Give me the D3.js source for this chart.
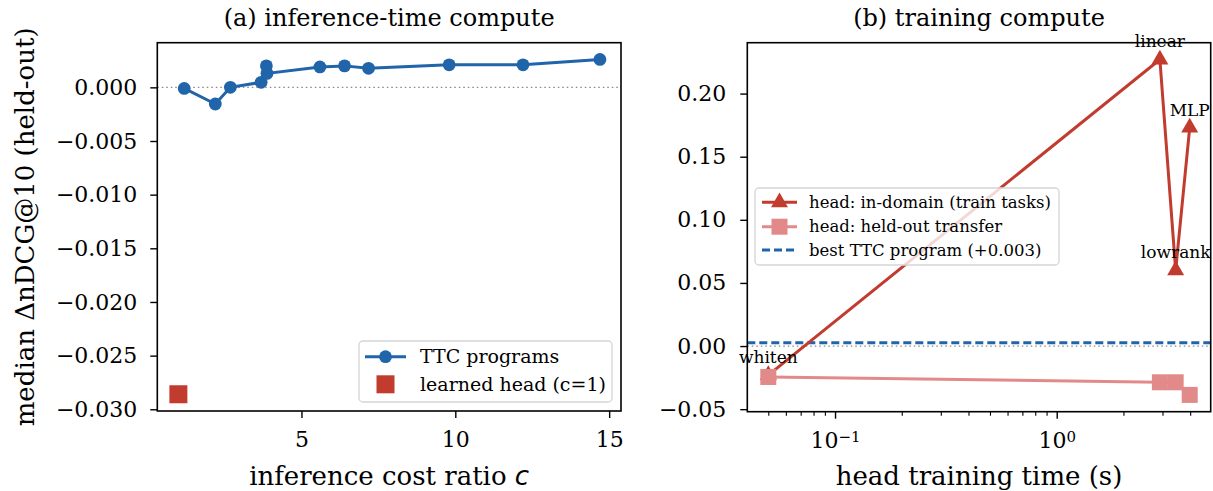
<!DOCTYPE html>
<html lang="en">
<head>
<meta charset="utf-8">
<title>TTC programs vs learned heads</title>
<script src="https://cdn.jsdelivr.net/npm/d3@7"></script>
<style>
	body { margin: 0; background: #fff; }
	text { font-family: "DejaVu Serif", serif; fill: #000; }
</style>
</head>
<body>
<script>

// (a) inference-time compute: TTC programs, cost ratio vs median delta
var ttcCost  = [1.19, 2.2, 2.69, 3.69, 3.86, 3.88, 5.6, 6.4, 7.18, 9.8, 12.2, 14.7];
var ttcDelta = [-0.0001, -0.00155, 0.0, 0.00047, 0.0020, 0.0013, 0.0019, 0.0020, 0.00177, 0.0021, 0.0021, 0.0026];
var learnedCost  = [1];
var learnedDelta = [-0.0286];

// (b) training compute: heads
var headNames = ["whiten", "linear", "lowrank", "MLP"];
var headTime  = [0.05, 2.92, 3.44, 3.98];
var inDomain  = [-0.023, 0.227, 0.060, 0.173];
var heldOut   = [-0.0245, -0.0287, -0.0287, -0.0387];

// tick values
var aXTicks = [5, 10, 15];
var aYTicks = [0.000, -0.005, -0.010, -0.015, -0.020, -0.025, -0.030];
var bXTicks = [0.1, 1];
var bXMinor = [0.05, 0.06, 0.07, 0.08, 0.09, 0.2, 0.3, 0.4, 0.5, 0.6, 0.7, 0.8, 0.9, 2, 3, 4];
var bYTicks = [0.20, 0.15, 0.10, 0.05, 0.00, -0.05];

//Width and height
var w = 1213;
var h = 491;

var blue = "#2064aa";
var red = "#c23b2f";
var pink = "#e28a89";

var svg = d3.select("body")
			.append("svg")
			.attr("width", w)
			.attr("height", h);

//Panel boxes
var A = { left: 157.3, right: 621, top: 42.7, bottom: 411 };
var B = { left: 747.3, right: 1210.7, top: 42.7, bottom: 411.7 };

var xA = d3.scaleLinear().domain([0.315, 15.385]).range([A.left, A.right]);
var yA = d3.scaleLinear().domain([-0.03016, 0.00416]).range([A.bottom, A.top]);
var xB = d3.scaleLog().domain([0.0402, 4.95]).range([B.left, B.right]);
var yB = d3.scaleLinear().domain([-0.052, 0.2403]).range([B.bottom, B.top]);

function styleAxis(g, size) {
	g.select(".domain").remove();
	g.selectAll(".tick line").attr("stroke", "#000").attr("stroke-width", 1.4);
	g.selectAll(".tick text").attr("font-family", "DejaVu Serif").attr("font-size", size).attr("fill", "#000");
}

// ---------- panel (a) ----------
svg.append("line")
	.attr("x1", A.left).attr("x2", A.right)
	.attr("y1", yA(0)).attr("y2", yA(0))
	.attr("stroke", "#888").attr("stroke-width", 1.3)
	.attr("stroke-dasharray", "1.5,3");

var gxA = svg.append("g")
	.attr("transform", "translate(0," + A.bottom + ")")
	.call(d3.axisBottom(xA).tickValues(aXTicks).tickSize(7).tickPadding(13).tickFormat(d3.format("d")));
styleAxis(gxA, 22);

var gyA = svg.append("g")
	.attr("transform", "translate(" + A.left + ",0)")
	.call(d3.axisLeft(yA).tickValues(aYTicks).tickSize(7).tickPadding(13).tickFormat(d3.format(".3f")));
styleAxis(gyA, 22);

var lineA = d3.line()
	.x(function(d) { return xA(d[0]); })
	.y(function(d) { return yA(d[1]); });

var ttcPts = d3.zip(ttcCost, ttcDelta);
svg.append("path")
	.datum(ttcPts)
	.attr("d", lineA)
	.attr("fill", "none")
	.attr("stroke", blue)
	.attr("stroke-width", 3);

svg.selectAll("circle.ttc")
	.data(ttcPts)
	.enter()
	.append("circle")
	.attr("class", "ttc")
	.attr("cx", function(d) { return xA(d[0]); })
	.attr("cy", function(d) { return yA(d[1]); })
	.attr("r", 6.4)
	.attr("fill", blue);

svg.selectAll("rect.learned")
	.data(d3.zip(learnedCost, learnedDelta))
	.enter()
	.append("rect")
	.attr("class", "learned")
	.attr("x", function(d) { return xA(d[0]) - 9; })
	.attr("y", function(d) { return yA(d[1]) - 9; })
	.attr("width", 18)
	.attr("height", 18)
	.attr("fill", red);

//Legend (a)
var legA = svg.append("g");
legA.append("rect")
	.attr("x", 359).attr("y", 341).attr("width", 253).attr("height", 61)
	.attr("rx", 4).attr("fill", "#fff").attr("fill-opacity", 0.8)
	.attr("stroke", "#d5d5d5").attr("stroke-width", 1.3);
legA.append("line")
	.attr("x1", 365).attr("x2", 406).attr("y1", 356.7).attr("y2", 356.7)
	.attr("stroke", blue).attr("stroke-width", 3);
legA.append("circle")
	.attr("cx", 385.5).attr("cy", 356.7).attr("r", 6.4).attr("fill", blue);
legA.append("rect")
	.attr("x", 376.5).attr("y", 375.3).attr("width", 18).attr("height", 18).attr("fill", red);
legA.append("text")
	.attr("x", 420).attr("y", 356.7).attr("dy", "0.35em")
	.attr("font-size", 19).text("TTC programs");
legA.append("text")
	.attr("x", 420).attr("y", 384.3).attr("dy", "0.35em")
	.attr("font-size", 19).text("learned head (c=1)");

svg.append("rect")
	.attr("x", A.left).attr("y", A.top)
	.attr("width", A.right - A.left).attr("height", A.bottom - A.top)
	.attr("fill", "none").attr("stroke", "#000").attr("stroke-width", 1.6);

svg.append("text")
	.attr("x", (A.left + A.right) / 2).attr("y", 26)
	.attr("text-anchor", "middle").attr("font-size", 24)
	.text("(a) inference-time compute");

var xlabA = svg.append("text")
	.attr("x", (A.left + A.right) / 2).attr("y", 485)
	.attr("text-anchor", "middle").attr("font-size", 26);
xlabA.append("tspan").text("inference cost ratio ");
xlabA.append("tspan").attr("font-family", "DejaVu Sans").attr("font-style", "italic").text("c");

svg.append("text")
	.attr("transform", "translate(34," + ((A.top + A.bottom) / 2) + ") rotate(-90)")
	.attr("text-anchor", "middle").attr("font-size", 26)
	.text("median \u0394nDCG@10 (held-out)");

// ---------- panel (b) ----------
svg.append("line")
	.attr("x1", B.left).attr("x2", B.right)
	.attr("y1", yB(0)).attr("y2", yB(0))
	.attr("stroke", "#888").attr("stroke-width", 1.3)
	.attr("stroke-dasharray", "1.5,3");

var bestTTC = d3.max(ttcDelta);
svg.append("line")
	.attr("x1", B.left).attr("x2", B.right)
	.attr("y1", yB(bestTTC)).attr("y2", yB(bestTTC))
	.attr("stroke", blue).attr("stroke-width", 3)
	.attr("stroke-dasharray", "8,4");

var gxBm = svg.append("g")
	.attr("transform", "translate(0," + B.bottom + ")")
	.call(d3.axisBottom(xB).tickValues(bXMinor).tickSize(4).tickFormat(""));
styleAxis(gxBm, 22);
gxBm.selectAll(".tick line").attr("stroke-width", 1.1);

var gxB = svg.append("g")
	.attr("transform", "translate(0," + B.bottom + ")")
	.call(d3.axisBottom(xB).tickValues(bXTicks).tickSize(7).tickPadding(6).tickFormat(""));
styleAxis(gxB, 22);
gxB.selectAll(".tick text").each(function(d) {
	var t = d3.select(this);
	t.append("tspan").text("10");
	t.append("tspan").attr("dy", "-0.45em").attr("font-size", 15)
		.text(d3.format("d")(Math.log10(d)).replace("-", "\u2212"));
});
gxB.selectAll(".tick text").attr("y", 21).attr("dy", "0.71em");

var gyB = svg.append("g")
	.attr("transform", "translate(" + B.left + ",0)")
	.call(d3.axisLeft(yB).tickValues(bYTicks).tickSize(7).tickPadding(14).tickFormat(d3.format(".2f")));
styleAxis(gyB, 22);

var lineB = d3.line()
	.x(function(d) { return xB(d[0]); })
	.y(function(d) { return yB(d[1]); });

var inPts = d3.zip(headTime, inDomain);
var outPts = d3.zip(headTime, heldOut);

svg.append("path")
	.datum(inPts)
	.attr("d", lineB)
	.attr("fill", "none").attr("stroke", red).attr("stroke-width", 3);

var tri = d3.symbol().type(d3.symbolTriangle).size(125);
svg.selectAll("path.tri")
	.data(inPts)
	.enter()
	.append("path")
	.attr("class", "tri")
	.attr("d", tri)
	.attr("transform", function(d) { return "translate(" + xB(d[0]) + "," + yB(d[1]) + ")"; })
	.attr("fill", red);

svg.append("path")
	.datum(outPts)
	.attr("d", lineB)
	.attr("fill", "none").attr("stroke", pink).attr("stroke-width", 3);

svg.selectAll("rect.held")
	.data(outPts)
	.enter()
	.append("rect")
	.attr("class", "held")
	.attr("x", function(d) { return xB(d[0]) - 8; })
	.attr("y", function(d) { return yB(d[1]) - 8; })
	.attr("width", 16).attr("height", 16)
	.attr("fill", pink);

svg.selectAll("text.head")
	.data(headNames)
	.enter()
	.append("text")
	.attr("class", "head")
	.attr("x", function(d, i) { return xB(headTime[i]); })
	.attr("y", function(d, i) { return yB(inDomain[i]) - 12; })
	.attr("text-anchor", "middle")
	.attr("font-size", 17)
	.text(function(d) { return d; });

//Legend (b)
var legB = svg.append("g");
legB.append("rect")
	.attr("x", 755).attr("y", 188).attr("width", 304).attr("height", 77)
	.attr("rx", 4).attr("fill", "#fff").attr("fill-opacity", 0.8)
	.attr("stroke", "#d5d5d5").attr("stroke-width", 1.3);
legB.append("line")
	.attr("x1", 762).attr("x2", 797).attr("y1", 202.3).attr("y2", 202.3)
	.attr("stroke", red).attr("stroke-width", 3);
legB.append("path")
	.attr("d", tri).attr("transform", "translate(779.5,202.3)").attr("fill", red);
legB.append("line")
	.attr("x1", 762).attr("x2", 797).attr("y1", 226.7).attr("y2", 226.7)
	.attr("stroke", pink).attr("stroke-width", 3);
legB.append("rect")
	.attr("x", 771.5).attr("y", 218.7).attr("width", 16).attr("height", 16).attr("fill", pink);
legB.append("line")
	.attr("x1", 762).attr("x2", 797).attr("y1", 250).attr("y2", 250)
	.attr("stroke", blue).attr("stroke-width", 3).attr("stroke-dasharray", "8,4");

var legBText = ["head: in-domain (train tasks)", "head: held-out transfer",
	"best TTC program (+" + d3.format(".3f")(bestTTC) + ")"];
legB.selectAll("text")
	.data(legBText)
	.enter()
	.append("text")
	.attr("x", 809)
	.attr("y", function(d, i) { return [202.3, 226.7, 250][i]; })
	.attr("dy", "0.35em")
	.attr("font-size", 16.5)
	.text(function(d) { return d; });

svg.append("rect")
	.attr("x", B.left).attr("y", B.top)
	.attr("width", B.right - B.left).attr("height", B.bottom - B.top)
	.attr("fill", "none").attr("stroke", "#000").attr("stroke-width", 1.6);

svg.append("text")
	.attr("x", (B.left + B.right) / 2).attr("y", 26)
	.attr("text-anchor", "middle").attr("font-size", 24)
	.text("(b) training compute");

svg.append("text")
	.attr("x", (B.left + B.right) / 2).attr("y", 485)
	.attr("text-anchor", "middle").attr("font-size", 26)
	.text("head training time (s)");

</script>
</body>
</html>
